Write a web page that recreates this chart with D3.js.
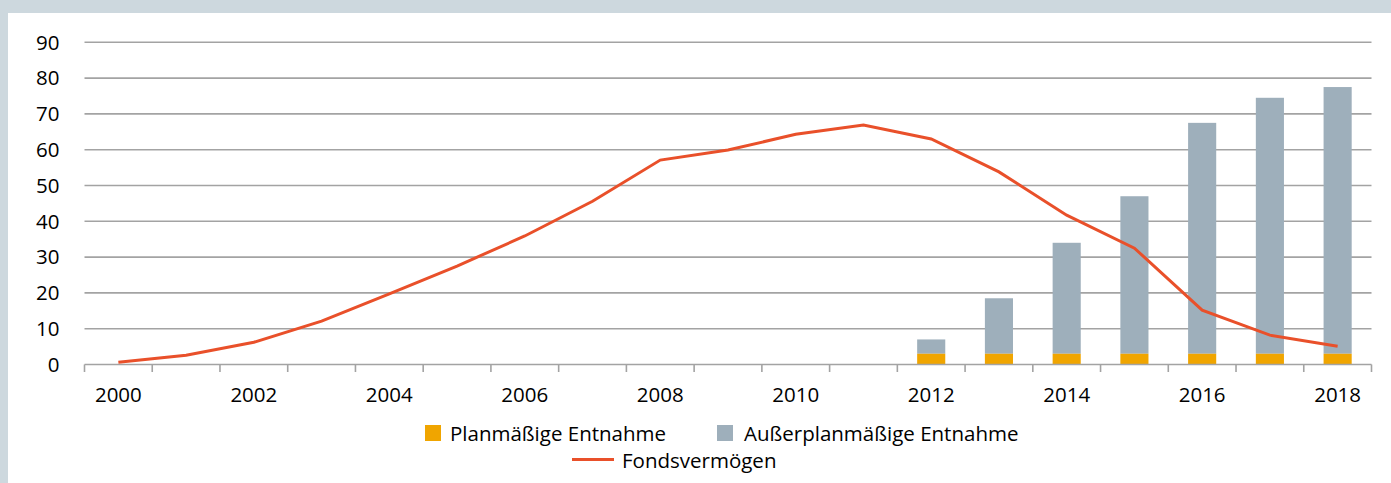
<!DOCTYPE html>
<html>
<head>
<meta charset="utf-8">
<script src="https://cdn.jsdelivr.net/npm/d3@7"></script>
<style>
  html, body { margin: 0; padding: 0; background: #cdd8de; }
  svg { display: block; }
</style>
</head>
<body>
<div id="container"></div>
<script>
// Data
const years = ["2000","2001","2002","2003","2004","2005","2006","2007","2008","2009",
               "2010","2011","2012","2013","2014","2015","2016","2017","2018"];
const planmaessig = [0,0,0,0,0,0,0,0,0,0,0,0,3,3,3,3,3,3,3];
const ausserplanmaessig = [0,0,0,0,0,0,0,0,0,0,0,0,4,15.5,31,44,64.5,71.5,74.5];
const fondsvermoegen = [0.6,2.6,6.2,12.1,19.7,27.5,35.9,45.6,57.1,59.9,64.3,66.9,63,53.8,41.7,32.5,15.2,8.2,5.1];
const yTicks = [0,10,20,30,40,50,60,70,80,90];
const tickYears = ["2000","2002","2004","2006","2008","2010","2012","2014","2016","2018"];

const width = 1391;
const height = 483;
const marginLeft = 84.5;
const marginRight = 19.5;
const marginTop = 42.3;
const bottomY = 364.5;
const font = "'Open Sans', sans-serif";
const fontSize = "20.5px";

const svg = d3.create("svg").attr("width", width).attr("height", height);

// white panel
svg.append("rect")
  .attr("x", 8).attr("y", 13)
  .attr("width", width - 8).attr("height", height - 13)
  .attr("fill", "white");

const x = d3.scaleBand()
  .domain(years)
  .range([marginLeft, width - marginRight]);

const y = d3.scaleLinear()
  .domain([0, 90])
  .range([bottomY, marginTop]);

// gridlines
svg.append("g")
  .selectAll("line")
  .data(yTicks.slice(1))
  .join("line")
  .attr("x1", marginLeft).attr("x2", width - marginRight)
  .attr("y1", d => y(d)).attr("y2", d => y(d))
  .attr("stroke", "#a3a3a3")
  .attr("stroke-width", 1.6);

// y labels
svg.append("g")
  .selectAll("text")
  .data(yTicks)
  .join("text")
  .attr("x", 59.5)
  .attr("y", d => y(d))
  .attr("dy", "0.36em")
  .attr("text-anchor", "end")
  .attr("font-family", font)
  .attr("font-size", fontSize)
  .attr("fill", "#000")
  .text(d => d);

// bars
const barW = x.bandwidth() * 0.415;
const bars = svg.append("g");
years.forEach((yr, i) => {
  const cx = x(yr) + x.bandwidth() / 2;
  const total = planmaessig[i] + ausserplanmaessig[i];
  if (total <= 0) return;
  bars.append("rect")
    .attr("x", cx - barW / 2).attr("width", barW)
    .attr("y", y(total)).attr("height", y(planmaessig[i]) - y(total))
    .attr("fill", "#9eafbb");
  bars.append("rect")
    .attr("x", cx - barW / 2).attr("width", barW)
    .attr("y", y(planmaessig[i])).attr("height", y(0) - y(planmaessig[i]))
    .attr("fill", "#f0a500");
});

// x axis line and ticks
const axis = svg.append("g").attr("stroke", "#a3a3a3").attr("stroke-width", 1.6);
axis.append("line")
  .attr("x1", marginLeft).attr("x2", width - marginRight)
  .attr("y1", bottomY).attr("y2", bottomY);
axis.selectAll("line.tick")
  .data(years.concat(["end"]))
  .join("line")
  .attr("class", "tick")
  .attr("x1", (d, i) => marginLeft + i * x.step())
  .attr("x2", (d, i) => marginLeft + i * x.step())
  .attr("y1", bottomY).attr("y2", bottomY + 7.5);

svg.append("g")
  .selectAll("text")
  .data(tickYears)
  .join("text")
  .attr("x", d => x(d) + x.bandwidth() / 2)
  .attr("y", 402)
  .attr("text-anchor", "middle")
  .attr("font-family", font)
  .attr("font-size", fontSize)
  .attr("fill", "#000")
  .text(d => d);

// line
const line = d3.line()
  .x((d, i) => x(years[i]) + x.bandwidth() / 2)
  .y(d => y(d));

svg.append("path")
  .datum(fondsvermoegen)
  .attr("d", line)
  .attr("fill", "none")
  .attr("stroke", "#e9502a")
  .attr("stroke-width", 3);

// legend
const legend = svg.append("g")
  .attr("font-family", font)
  .attr("font-size", fontSize)
  .attr("fill", "#000");
legend.append("rect").attr("x", 425).attr("y", 425).attr("width", 16).attr("height", 16).attr("fill", "#f0a500");
legend.append("text").attr("x", 450).attr("y", 441).text("Planmäßige Entnahme");
legend.append("rect").attr("x", 717).attr("y", 425).attr("width", 16).attr("height", 16).attr("fill", "#9eafbb");
legend.append("text").attr("x", 744).attr("y", 441).text("Außerplanmäßige Entnahme");
legend.append("line").attr("x1", 572).attr("x2", 614).attr("y1", 459.5).attr("y2", 459.5)
  .attr("stroke", "#e9502a").attr("stroke-width", 3);
legend.append("text").attr("x", 622).attr("y", 468).text("Fondsvermögen");

document.getElementById("container").append(svg.node());
</script>
</body>
</html>
